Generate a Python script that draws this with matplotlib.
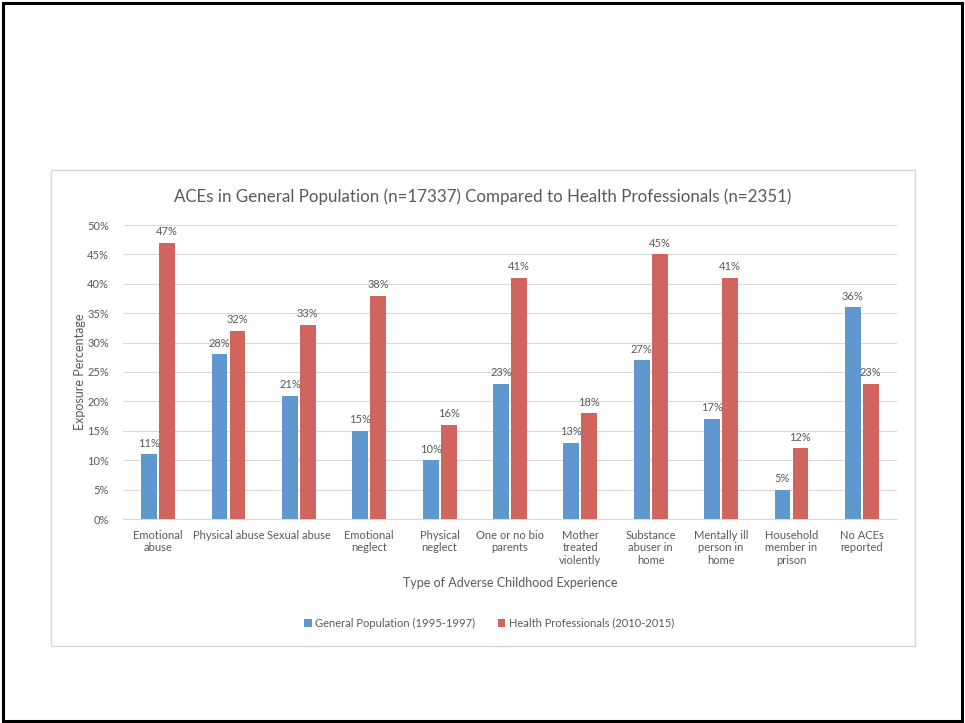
import numpy as np
import matplotlib.pyplot as plt
from matplotlib.patches import Rectangle

# --- Dados ---
categorias = ["Emotional\nabuse", "Physical abuse", "Sexual abuse", "Emotional\nneglect",
              "Physical\nneglect", "One or no bio\nparents", "Mother\ntreated\nviolently",
              "Substance\nabuser in\nhome", "Mentally ill\nperson in\nhome",
              "Household\nmember in\nprison", "No ACEs\nreported"]
geral = [11, 28, 21, 15, 10, 23, 13, 27, 17, 5, 36]
saude = [47, 32, 33, 38, 16, 41, 18, 45, 41, 12, 23]
serie_geral = "General Population (1995-1997)"
serie_saude = "Health Professionals (2010-2015)"

AZUL = "#5F97CF"
VERMELHO = "#D0645E"
TEXTO = "#595959"

plt.rcParams['font.family'] = ['Lato', 'DejaVu Sans']

W, H = 965, 723
fig = plt.figure(figsize=(W / 100, H / 100), dpi=100)

# moldura externa (slide) e caixa do gráfico
fig.patches.append(Rectangle((3 / W, 1 - 721 / H), 959 / W, 718 / H, transform=fig.transFigure,
                             fill=False, edgecolor="black", linewidth=2.2))
fig.patches.append(Rectangle((51 / W, 1 - 646 / H), 864 / W, 476 / H, transform=fig.transFigure,
                             fill=False, edgecolor="#D9D9D9", linewidth=1))

ax = fig.add_axes([123 / W, 1 - 519 / H, 774 / W, 294 / H])

x = np.arange(len(categorias))
largura = 0.225
gap = 0.03
b1 = ax.bar(x - largura / 2 - gap / 2, np.array(geral) / 100, largura, color=AZUL, label=serie_geral, zorder=3)
b2 = ax.bar(x + largura / 2 + gap / 2, np.array(saude) / 100, largura, color=VERMELHO, label=serie_saude, zorder=3)

for barras, vals in ((b1, geral), (b2, saude)):
    for b, v in zip(barras, vals):
        ax.annotate(f"{v}%", (b.get_x() + b.get_width() / 2, b.get_height()),
                    xytext=(0, 4), textcoords="offset points", ha="center", va="bottom",
                    fontsize=8, color=TEXTO)

ax.set_xlim(-0.5, len(categorias) - 0.5)
ax.set_ylim(0, 0.5)
ax.set_yticks(np.arange(0, 0.51, 0.05))
ax.set_yticklabels([f"{int(round(t * 100))}%" for t in np.arange(0, 0.51, 0.05)])
ax.set_xticks(x)
ax.set_xticklabels(categorias, fontsize=8, color=TEXTO, linespacing=1.15)
ax.tick_params(axis="y", labelsize=8, labelcolor=TEXTO, length=0, pad=10)
ax.tick_params(axis="x", length=0, pad=8)
ax.grid(axis="y", color="#D9D9D9", linewidth=0.8, zorder=0)
for s in ("top", "right", "left"):
    ax.spines[s].set_visible(False)
ax.spines["bottom"].set_color("#D9D9D9")

ax.set_ylabel("Exposure Percentage", fontsize=9, color=TEXTO, labelpad=1)
fig.text(510 / W, 1 - 583 / H, "Type of Adverse Childhood Experience", ha="center", va="center",
         fontsize=9, color=TEXTO)
fig.text(483 / W, 1 - 197 / H, "ACEs in General Population (n=17337) Compared to Health Professionals (n=2351)",
         ha="center", va="center", fontsize=12.2, color=TEXTO)

fig.legend(handles=[b1, b2], loc="center", bbox_to_anchor=(489 / W, 1 - 623 / H), ncol=2,
           frameon=False, fontsize=8, labelcolor=TEXTO, handlelength=0.7, handleheight=0.7,
           handletextpad=0.3, columnspacing=2.0)

plt.savefig("out.png", dpi=100)
